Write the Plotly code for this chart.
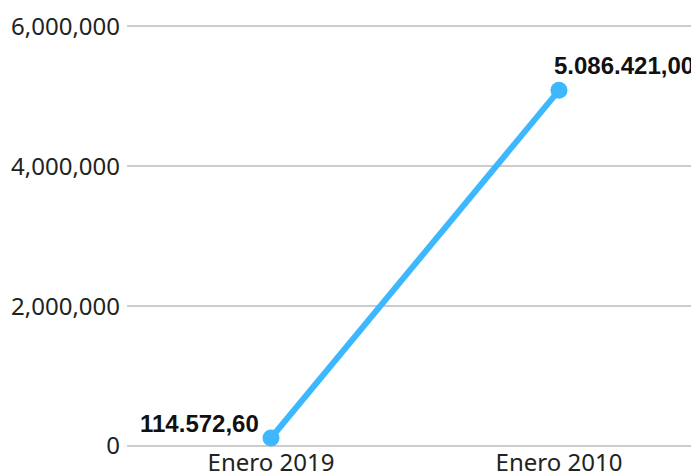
import plotly.graph_objects as go

categories = ["Enero 2019", "Enero 2010"]
values = [114572.60, 5086421.00]
labels = ["114.572,60", "5.086.421,00"]

fig = go.Figure(go.Scatter(
    x=categories,
    y=values,
    mode="lines+markers",
    line=dict(color="#3DB8FF", width=6),
    marker=dict(color="#3DB8FF", size=17),
    cliponaxis=False,
))

# value labels placed next to each point
label_style = [
    dict(xanchor="right", xshift=-10, yshift=14),
    dict(xanchor="left", xshift=-7, yshift=25),
]
for cat, val, lab, st in zip(categories, values, labels, label_style):
    fig.add_annotation(
        x=cat, y=val, text=lab, showarrow=False, yanchor="middle",
        font=dict(family="Liberation Sans", size=24, color="#111111", weight="bold"),
        **st,
    )

fig.update_layout(
    width=699,
    height=471,
    margin=dict(l=119, r=0, t=17, b=33),
    paper_bgcolor="white",
    plot_bgcolor="white",
    showlegend=False,
    font=dict(family="Noto Sans", size=24, color="#222222"),
)
fig.update_xaxes(showgrid=False, showline=False, ticks="", range=[-0.5, 1.514],
                 automargin=False)
fig.update_yaxes(
    range=[0, 6020000],
    tickvals=[0, 2000000, 4000000, 6000000],
    tickformat=",d",
    gridcolor="#cccccc",
    gridwidth=1.5,
    zeroline=True,
    zerolinecolor="#cccccc",
    zerolinewidth=2,
    ticklabelstandoff=6,
    automargin=False,
)

fig.write_html("out.html")
